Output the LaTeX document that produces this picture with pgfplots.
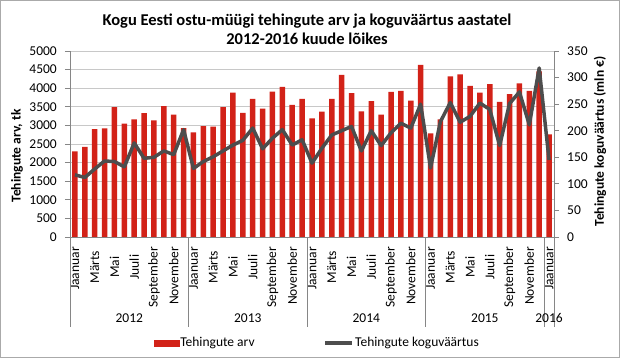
\documentclass[border=0pt]{standalone}
\usepackage{pgfplots}
\pgfplotsset{compat=1.18}
\usepackage{fontspec}
\setmainfont{Carlito}
\definecolor{barred}{RGB}{210,34,24}
\definecolor{linegray}{RGB}{77,77,77}
\definecolor{axgray}{RGB}{134,134,134}
\definecolor{gridgray}{RGB}{200,200,200}
\newcommand{\fs}{\fontsize{13.5}{16}\selectfont}
\newcommand{\sm}[1]{\makebox[40pt][c]{#1}}
\pgfplotstableread{
i arv
0 2300
1 2420
2 2900
3 2920
4 3490
5 3050
6 3160
7 3330
8 3135
9 3520
10 3290
11 2930
12 2810
13 2980
14 2965
15 3490
16 3880
17 3335
18 3710
19 3450
20 3910
21 4035
22 3550
23 3710
24 3190
25 3370
26 3710
27 4360
28 3865
29 3380
30 3650
31 3290
32 3900
33 3930
34 3665
35 4630
36 2785
37 3160
38 4315
39 4370
40 4065
41 3880
42 4110
43 3630
44 3840
45 4130
46 3930
47 4450
48 2760
}\arvtable
\pgfplotstableread{
i vaartus
0 117
1 112
2 128
3 143
4 142
5 132
6 177
7 148
8 150
9 162
10 155
11 202
12 129
13 142
14 151
15 162
16 173
17 182
18 205
19 166
20 186
21 202
22 173
23 183
24 139
25 167
26 192
27 200
28 208
29 162
30 200
31 172
32 196
33 214
34 205
35 250
36 130
37 217
38 253
39 216
40 227
41 252
42 240
43 172
44 251
45 273
46 211
47 318
48 145
}\vaartustable
\begin{document}
\begin{tikzpicture}
\draw[axgray!70, line width=1pt] (0.5pt,0.5pt) rectangle (619.5pt,357.5pt);
\node[font=\bfseries\fontsize{16.5}{19}\selectfont, align=center] at (307pt,328.5pt) {Kogu Eesti ostu-müügi tehingute arv ja koguväärtus aastatel\\2012-2016 kuude lõikes};
\node[font=\bfseries\fs, rotate=90] at (17pt,202pt) {Tehingute arv, tk};
\node[font=\bfseries\fs, rotate=90] at (600pt,216.5pt) {Tehingute koguväärtus (mln €)};
\begin{axis}[
  at={(70pt,121pt)}, anchor=south west, scale only axis,
  width=484pt, height=186pt,
  xmin=-0.5, xmax=48.5, ymin=0, ymax=5000,
  axis y line*=left, axis x line*=bottom,
  axis line style={-, axgray, line width=0.8pt},
  every outer x axis line/.append style={-},
  every outer y axis line/.append style={-},
  ytick={0,500,...,5000},
  ymajorgrids, grid style={gridgray, line width=0.6pt},
  /pgf/number format/assume math mode=true,
  /pgf/number format/1000 sep={},
  scaled y ticks=false,
  yticklabel style={font=\fs, inner sep=0pt, xshift=-8pt},
  ytick style={axgray, line width=0.8pt},
  tick align=outside, major tick length=5pt,
  xtick={0,2,...,48},
  xticklabels={Jaanuar,\sm{Märts},\sm{Mai},\sm{Juuli},September,November,
               Jaanuar,\sm{Märts},\sm{Mai},\sm{Juuli},September,November,
               Jaanuar,\sm{Märts},\sm{Mai},\sm{Juuli},September,November,
               Jaanuar,\sm{Märts},\sm{Mai},\sm{Juuli},September,November,
               Jaanuar},
  xtick style={draw=none},
  xticklabel style={font=\fs, yshift=-5pt, rotate=90, anchor=east, inner sep=0pt},
  ybar, bar width=5.5pt,
  clip=false,
]
\addplot[fill=barred, draw=none] table[x=i, y=arv] {\arvtable};
\pgfplotsinvokeforeach{-0.5,11.5,23.5,35.5,47.5,48.5}{
  \draw[axgray, line width=0.8pt] (axis cs:#1,0) -- ++(0pt,-90pt);
}
\node[font=\fs] at (axis cs:5.5,0) [yshift=-81pt] {2012};
\node[font=\fs] at (axis cs:17.5,0) [yshift=-81pt] {2013};
\node[font=\fs] at (axis cs:29.5,0) [yshift=-81pt] {2014};
\node[font=\fs] at (axis cs:41.5,0) [yshift=-81pt] {2015};
\node[font=\fs] at (axis cs:48,0) [yshift=-81pt] {2016};
\end{axis}
\begin{axis}[
  at={(70pt,121pt)}, anchor=south west, scale only axis,
  width=484pt, height=186pt,
  xmin=-0.5, xmax=48.5, ymin=0, ymax=350,
  axis y line*=right, axis x line=none,
  axis line style={-, axgray, line width=0.8pt},
  every outer y axis line/.append style={-},
  ytick={0,50,...,350},
  /pgf/number format/assume math mode=true,
  yticklabel style={font=\fs, inner sep=0pt, xshift=8pt},
  ytick style={axgray, line width=0.8pt},
  tick align=outside, major tick length=5pt,
  clip=false,
  legend style={at={(0.51,-0.57)}, anchor=center, draw=none, fill=none,
    legend columns=2, font=\fs,
    /tikz/every even column/.append style={column sep=68pt},
    nodes={inner sep=1pt}},
  legend cell align=left,
]
\addlegendimage{legend image code/.code={\fill[barred] (0pt,-3pt) rectangle (25pt,3pt);}}
\addlegendentry{Tehingute arv}
\addplot[linegray, line width=3.5pt, line join=round, mark=none,
  legend image code/.code={\draw[linegray, line width=3.5pt] (0pt,0pt) -- (27pt,0pt);}]
  table[x=i, y=vaartus] {\vaartustable};
\addlegendentry{Tehingute koguväärtus}
\end{axis}
\end{tikzpicture}
\end{document}
